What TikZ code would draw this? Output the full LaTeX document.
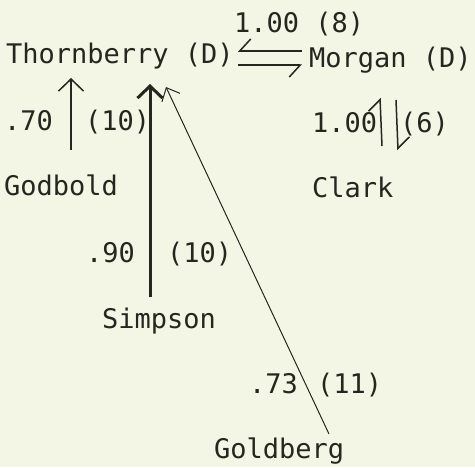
\documentclass[tikz,border=0pt]{standalone}
\usepackage{fontspec}
\newfontfamily\typewr{DejaVu Sans Mono}
\usetikzlibrary{arrows.meta}
\definecolor{paper}{RGB}{244,246,229}
\definecolor{ink}{RGB}{38,38,32}
\tikzset{
  txt/.style={anchor=base west, inner sep=0pt, text=ink, font=\typewr\fontsize{27}{30}\selectfont},
  barb/.style={-{Straight Barb[length=12pt,width=25pt]}, draw=ink, line width=1.5pt},
  harp/.style={-{Straight Barb[length=11pt,width=24pt,#1]}, draw=ink, line width=1.5pt}
}

\begin{document}
\begin{tikzpicture}[x=1pt,y=-1pt]
    % paper
    \fill[paper] (0,0) rectangle (475,467);
    \useasboundingbox (0,0) rectangle (475,467);
    % names
    \node[txt] (thorn) at (6,63) {Thornberry (D)};
    \node[txt] (morgan) at (309,67) {Morgan (D)};
    \node[txt] (godbold) at (4,195) {Godbold};
    \node[txt] (clark) at (312,197) {Clark};
    \node[txt] (simpson) at (102,328) {Simpson};
    \node[txt] (goldberg) at (214,458) {Goldberg};
    % weights and counts
    \node[txt] (lblmt) at (234,32) {1.00 (8)};
    \node[txt] (lblgw) at (4,130) {.70};
    \node[txt] (lblgn) at (85,130) {(10)};
    \node[txt] (lblcw) at (312,132) {1.00};
    \node[txt] (lblcn) at (400,132) {(6)};
    \node[txt] (lblsw) at (86,262) {.90};
    \node[txt] (lblsn) at (167,262) {(10)};
    \node[txt] (lbldw) at (249,393) {.73};
    \node[txt] (lbldn) at (317,393) {(11)};
    % connector ends
    \coordinate (godtail) at (71,150);
    \coordinate (godtip) at (71,78);
    \coordinate (simtail) at (150,297);
    \coordinate (simtip) at (150,84);
    \coordinate (goltail) at (329,434);
    \coordinate (goltip) at (166,87);
    % arrows into Thornberry
    \draw[barb] (godtail) -- (godtip);
    \draw[barb, line width=3pt] (simtail) -- (simtip);
    \draw[-{Straight Barb[length=11pt,width=20pt]}, draw=ink, line width=1pt] (goltail) -- (goltip);
    % Thornberry <-> Morgan
    \draw[harp=right] (302,51) -- (238,51);
    \draw[harp=right] (238,65) -- (302,65);
    % Morgan <-> Clark
    \draw[harp=left] (382,146) -- (380,98);
    \draw[harp=left] (396,100) -- (398,150);
\end{tikzpicture}
\end{document}
